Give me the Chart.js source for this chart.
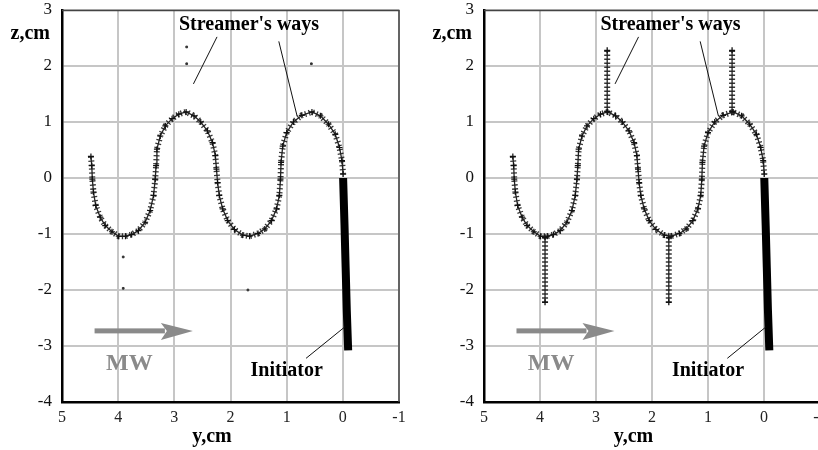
<!DOCTYPE html>
<html>
<head>
<meta charset="utf-8">
<script src="https://cdn.jsdelivr.net/npm/chart.js@4.4.1/dist/chart.umd.min.js"></script>
<style>
html, body { margin: 0; padding: 0; background: #fff; overflow: hidden; }
#wrap { position: relative; width: 818px; height: 450px; overflow: hidden; }
canvas { position: absolute; top: 0; }
</style>
</head>
<body>
<div id="wrap">
  <canvas id="leftChart" width="410" height="450" style="left:0"></canvas>
  <canvas id="rightChart" width="430" height="450" style="left:410px"></canvas>
</div>
<script>
// Trayectoria principal (y, z en cm)
const curveY = [4.485, 4.47, 4.46, 4.44, 4.40, 4.32, 4.23, 4.11, 3.99, 3.87, 3.76, 3.64, 3.52, 3.43, 3.37, 3.34,
  3.325, 3.31, 3.25, 3.16, 3.04, 2.92, 2.79, 2.65, 2.53, 2.41, 2.32, 2.27, 2.25, 2.23, 2.20, 2.14, 2.05, 1.93,
  1.78, 1.66, 1.51, 1.39, 1.27, 1.18, 1.13, 1.11, 1.10, 1.07, 1.00, 0.88, 0.73, 0.55, 0.40, 0.255, 0.135, 0.06,
  0.015, -0.005];
const curveZ = [0.385, 0.22, -0.02, -0.25, -0.49, -0.70, -0.85, -0.96, -1.04, -1.04, -1.01, -0.94, -0.79, -0.58,
  -0.31, -0.02, 0.22, 0.515, 0.75, 0.93, 1.06, 1.14, 1.18, 1.11, 1.00, 0.84, 0.63, 0.40, 0.16, -0.08, -0.31,
  -0.55, -0.76, -0.92, -1.02, -1.04, -0.99, -0.91, -0.76, -0.55, -0.31, -0.02, 0.28, 0.57, 0.81, 1.00, 1.12,
  1.18, 1.11, 0.96, 0.78, 0.545, 0.31, 0.07];

// Iniciador
const initiatorY = [-0.005, -0.03, -0.05, -0.07, -0.095];
const initiatorZ = [0.0, -0.85, -1.6, -2.35, -3.08];

// Caminos del streamer (solo panel derecho)
const streamerY = [2.80, 0.57, 3.91, 1.70];
const streamerFromZ = [1.18, 1.18, -1.06, -1.06];
const streamerToZ = [2.28, 2.28, -2.22, -2.22];

// Puntos sueltos del panel izquierdo
const strayY = [2.78, 2.78, 0.56, 3.91, 3.91, 1.69];
const strayZ = [2.04, 2.34, 2.04, -1.41, -1.97, -2.0];

// Ejes
const yAxisMin = -1, yAxisMax = 5;
const zAxisMin = -4, zAxisMax = 3;

// Anotaciones (coordenadas de datos)
const notes = {
  streamer: { text: "Streamer's ways", y: 1.67, z: 2.73 },
  initiator: { text: 'Initiator', y: 1.0, z: -3.45 },
  mw: { text: 'MW', y: 3.8, z: -3.32 },
  arrow: { y1: 4.42, y2: 2.67, z: -2.73 },
  leaders: [[2.24, 2.52, 2.66, 1.68], [1.14, 2.44, 0.815, 1.11], [0.655, -3.22, -0.04, -2.655]]
};

const pts = (ys, zs) => ys.map((y, i) => ({ x: y, y: zs[i] }));

const curveSets = () => [
  {
    data: pts(curveY, curveZ), showLine: true, borderColor: '#222', borderWidth: 1.3,
    pointStyle: 'cross', pointRadius: 3, pointBorderWidth: 1.2, pointBorderColor: '#111'
  },
  {
    data: pts(curveY, curveZ), showLine: true, borderColor: 'rgba(20,20,20,0.85)', borderWidth: 6,
    borderDash: [1.3, 2.7], pointRadius: 0
  },
  {
    data: pts(initiatorY, initiatorZ), showLine: true, borderColor: '#000', borderWidth: 8,
    borderCapStyle: 'butt', pointRadius: 0
  }
];

const leftSets = curveSets().concat([{
  data: pts(strayY, strayZ), pointStyle: 'rect', pointRadius: 1.2, backgroundColor: '#333', borderColor: '#333'
}]);

const rightSets = curveSets();
streamerY.forEach((y, i) => {
  const d = [{ x: y, y: streamerFromZ[i] }, { x: y, y: streamerToZ[i] }];
  rightSets.push({ data: d, showLine: true, borderColor: '#222', borderWidth: 1.3, pointStyle: 'cross', pointRadius: 3, pointBorderColor: '#111' });
  rightSets.push({ data: d, showLine: true, borderColor: 'rgba(20,20,20,0.85)', borderWidth: 6, borderDash: [1.3, 2.7], pointRadius: 0 });
});

const notesPlugin = {
  id: 'notes',
  afterDraw(chart) {
    const { ctx, chartArea: a, scales: { x, y } } = chart;
    const px = v => x.getPixelForValue(v), pz = v => y.getPixelForValue(v);
    ctx.save();
    // borde superior y derecho
    ctx.strokeStyle = '#444';
    ctx.lineWidth = 1.5;
    ctx.beginPath();
    ctx.moveTo(a.left, a.top + 0.5); ctx.lineTo(a.right, a.top + 0.5); ctx.lineTo(a.right, a.bottom);
    ctx.stroke();

    // líneas guía
    ctx.strokeStyle = '#111';
    ctx.lineWidth = 1;
    notes.leaders.forEach(l => {
      ctx.beginPath();
      ctx.moveTo(px(l[0]), pz(l[1])); ctx.lineTo(px(l[2]), pz(l[3]));
      ctx.stroke();
    });

    // flecha MW
    const ax1 = px(notes.arrow.y1), ax2 = px(notes.arrow.y2), ay = pz(notes.arrow.z);
    ctx.fillStyle = '#8a8a8a';
    ctx.fillRect(ax1, ay - 2.5, ax2 - ax1 - 28, 5);
    ctx.beginPath();
    ctx.moveTo(ax2, ay); ctx.lineTo(ax2 - 32, ay - 8); ctx.lineTo(ax2 - 26, ay); ctx.lineTo(ax2 - 32, ay + 9);
    ctx.closePath();
    ctx.fill();

    ctx.textAlign = 'center';
    ctx.textBaseline = 'middle';
    ctx.font = 'bold 24px "Liberation Serif"';
    ctx.fillText(notes.mw.text, px(notes.mw.y), pz(notes.mw.z));

    ctx.fillStyle = '#000';
    ctx.font = 'bold 20px "Liberation Serif"';
    ctx.fillText(notes.streamer.text, px(notes.streamer.y), pz(notes.streamer.z));
    ctx.fillText(notes.initiator.text, px(notes.initiator.y), pz(notes.initiator.z));

    // títulos de ejes
    ctx.fillText('y,cm', a.left + (a.right - a.left) * 0.445, 437);
    ctx.textAlign = 'right';
    ctx.fillText('z,cm', a.left - 12, 34);
    ctx.restore();
  }
};

function makePanel(id, axisWidth, rightPad, datasets) {
  return new Chart(document.getElementById(id), {
    type: 'scatter',
    data: { datasets: datasets },
    options: {
      responsive: false,
      animation: false,
      layout: { padding: { top: 10, right: rightPad, left: 0, bottom: 0 } },
      plugins: { legend: { display: false }, tooltip: { enabled: false } },
      scales: {
        x: {
          type: 'linear', min: yAxisMin, max: yAxisMax, reverse: true,
          afterFit: s => { s.height = 48; s.paddingLeft = 0; s.paddingRight = 0; },
          grid: { color: '#c6c6c6', lineWidth: 2, drawTicks: false },
          border: { display: true, color: '#000', width: 2.5 },
          ticks: { stepSize: 1, padding: 6, maxRotation: 0, color: '#222', font: { family: 'Liberation Serif', size: 16 } }
        },
        y: {
          type: 'linear', min: zAxisMin, max: zAxisMax,
          afterFit: s => { s.width = axisWidth; s.paddingTop = 0; s.paddingBottom = 0; },
          grid: { color: '#c6c6c6', lineWidth: 2, drawTicks: false },
          border: { display: true, color: '#000', width: 2.5 },
          ticks: { stepSize: 1, padding: 10, color: '#111', font: { family: 'Liberation Serif', size: 17 } }
        }
      }
    },
    plugins: [notesPlugin]
  });
}

makePanel('leftChart', 62, 11, leftSets);
makePanel('rightChart', 74, 20, rightSets);
</script>
</body>
</html>
